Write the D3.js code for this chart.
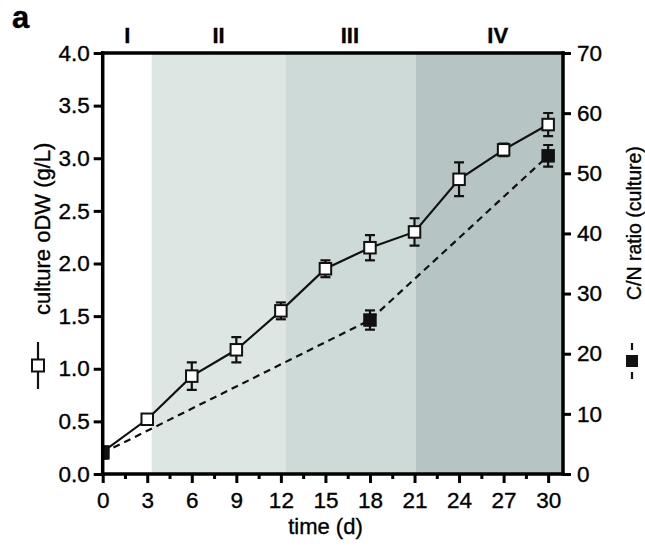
<!DOCTYPE html>
<html>
<head>
<meta charset="utf-8">
<script src="https://cdn.jsdelivr.net/npm/d3@7"></script>
<style>
  html, body { margin: 0; padding: 0; background: #fff; }
  svg { display: block; font-family: "Liberation Sans", Arial, Helvetica, sans-serif; }
  svg text { stroke: #000; stroke-width: 0.35px; }
</style>
</head>
<body>
<svg id="chart" width="645" height="548"></svg>
<script>
// Sampling days and culture dry weight (g/L), mean and error
const days = [0, 3, 6, 9, 12, 15, 18, 21, 24, 27, 30];
const odw = [0.21, 0.52, 0.93, 1.18, 1.55, 1.95, 2.15, 2.30, 2.80, 3.08, 3.32];
const odwErr = [0.03, 0.03, 0.13, 0.12, 0.08, 0.08, 0.12, 0.13, 0.16, 0.06, 0.11];

// C/N ratio of the culture, measured on fewer days
const cnDays = [0, 18, 30];
const cn = [3.5, 25.6, 52.9];
const cnErr = [0.9, 1.6, 1.8];

// Growth phases shaded behind the data
const phaseNames = ["I", "II", "III", "IV"];
const phaseStart = [0, 3.3, 12.3, 21.1];
const phaseEnd = [3.3, 12.3, 21.1, 31];
const phaseLabelAt = [1.65, 7.8, 16.65, 26.6];
const phaseFill = ["#ffffff", "#dde6e3", "#cddad7", "#b6c5c3"];

// Tick values
const xTicks = [0, 3, 6, 9, 12, 15, 18, 21, 24, 27, 30];
const xMinorTicks = [1.5, 4.5, 7.5, 10.5, 13.5, 16.5, 19.5, 22.5, 25.5, 28.5];
const yLeftTicks = [0, 0.5, 1, 1.5, 2, 2.5, 3, 3.5, 4];
const yRightTicks = [0, 10, 20, 30, 40, 50, 60, 70];

const svg = d3.select("#chart");
const plotL = 102.7, plotR = 563, plotT = 53, plotB = 474;

const x = d3.scaleLinear().domain([0, 31]).range([plotL, plotR]);
const yL = d3.scaleLinear().domain([0, 4]).range([plotB, plotT]);
const yR = d3.scaleLinear().domain([0, 70]).range([plotB, plotT]);

svg.append("defs").append("clipPath").attr("id", "plotClip")
  .append("rect").attr("x", plotL).attr("y", plotT - 10)
  .attr("width", plotR - plotL).attr("height", plotB - plotT + 10);

// phase bands
svg.append("g").selectAll("rect").data(phaseNames).join("rect")
  .attr("x", (d, i) => x(phaseStart[i]))
  .attr("width", (d, i) => x(phaseEnd[i]) - x(phaseStart[i]))
  .attr("y", plotT).attr("height", plotB - plotT)
  .attr("fill", (d, i) => phaseFill[i]);

// phase labels
svg.append("g").selectAll("text").data(phaseNames).join("text")
  .attr("x", (d, i) => x(phaseLabelAt[i]))
  .attr("y", 43)
  .attr("text-anchor", "middle")
  .attr("font-size", 22).attr("font-weight", "bold")
  .text(d => d);

const plot = svg.append("g").attr("clip-path", "url(#plotClip)");

const odwPts = days.map((d, i) => ({ t: d, v: odw[i], e: odwErr[i] }));
const cnPts = cnDays.map((d, i) => ({ t: d, v: cn[i], e: cnErr[i] }));

// connecting lines
plot.append("path").datum(odwPts)
  .attr("fill", "none").attr("stroke", "#111").attr("stroke-width", 2.2)
  .attr("d", d3.line().x(d => x(d.t)).y(d => yL(d.v)));
plot.append("path").datum(cnPts)
  .attr("fill", "none").attr("stroke", "#111").attr("stroke-width", 2.2)
  .attr("stroke-dasharray", "7,5")
  .attr("d", d3.line().x(d => x(d.t)).y(d => yR(d.v)));

function errorBars(g, pts, y) {
  const cap = 5;
  const eb = g.append("g").attr("stroke", "#111").attr("stroke-width", 2.2);
  eb.selectAll("line.v").data(pts).join("line").attr("class", "v")
    .attr("x1", d => x(d.t)).attr("x2", d => x(d.t))
    .attr("y1", d => y(d.v + d.e)).attr("y2", d => y(d.v - d.e));
  eb.selectAll("line.hi").data(pts).join("line").attr("class", "hi")
    .attr("x1", d => x(d.t) - cap).attr("x2", d => x(d.t) + cap)
    .attr("y1", d => y(d.v + d.e)).attr("y2", d => y(d.v + d.e));
  eb.selectAll("line.lo").data(pts).join("line").attr("class", "lo")
    .attr("x1", d => x(d.t) - cap).attr("x2", d => x(d.t) + cap)
    .attr("y1", d => y(d.v - d.e)).attr("y2", d => y(d.v - d.e));
}

const sq = 11.5;
errorBars(plot, odwPts, yL);
plot.append("g").selectAll("rect").data(odwPts).join("rect")
  .attr("x", d => x(d.t) - sq / 2).attr("y", d => yL(d.v) - sq / 2)
  .attr("width", sq).attr("height", sq)
  .attr("fill", "#fff").attr("stroke", "#111").attr("stroke-width", 2);

errorBars(plot, cnPts, yR);
plot.append("g").selectAll("rect").data(cnPts).join("rect")
  .attr("x", d => x(d.t) - sq / 2).attr("y", d => yR(d.v) - sq / 2)
  .attr("width", sq).attr("height", sq)
  .attr("fill", "#111").attr("stroke", "#111").attr("stroke-width", 2);

// axes
function styleAxis(g) {
  g.selectAll("path.domain").remove();
  g.selectAll(".tick line").attr("stroke", "#000").attr("stroke-width", 3);
  g.selectAll(".tick text").attr("font-size", 22.5).attr("fill", "#000")
    .attr("font-family", "Liberation Sans, Arial, sans-serif");
}

svg.append("g").attr("transform", `translate(${plotL},0)`)
  .call(d3.axisLeft(yL).tickValues(yLeftTicks).tickFormat(d3.format(".1f"))
    .tickSize(9).tickPadding(4))
  .call(styleAxis);

svg.append("g").attr("transform", `translate(${plotR},0)`)
  .call(d3.axisRight(yR).tickValues(yRightTicks).tickFormat(d3.format("d"))
    .tickSize(8).tickPadding(6))
  .call(styleAxis);

svg.append("g").attr("transform", `translate(0,${plotB})`)
  .call(d3.axisBottom(x).tickValues(xMinorTicks).tickFormat("").tickSize(5))
  .call(styleAxis);

svg.append("g").attr("transform", `translate(0,${plotB})`)
  .call(d3.axisBottom(x).tickValues(xTicks).tickFormat(d3.format("d"))
    .tickSize(9).tickPadding(9))
  .call(styleAxis);

// frame
const frame = svg.append("g").attr("stroke", "#000").attr("stroke-width", 3.5)
  .attr("stroke-linecap", "square");
frame.append("line").attr("x1", plotL).attr("x2", plotL).attr("y1", plotT).attr("y2", plotB);
frame.append("line").attr("x1", plotR).attr("x2", plotR).attr("y1", plotT).attr("y2", plotB);
frame.append("line").attr("x1", plotL).attr("x2", plotR).attr("y1", plotT).attr("y2", plotT);
frame.append("line").attr("x1", plotL).attr("x2", plotR).attr("y1", plotB).attr("y2", plotB);

// axis titles with their series symbols
const leftTitle = svg.append("g").attr("transform", "translate(50,0) rotate(-90)");
leftTitle.append("text").attr("x", -315).attr("y", 0)
  .attr("font-size", 22).attr("fill", "#000").text("culture oDW (g/L)");
leftTitle.append("line").attr("x1", -389).attr("x2", -342).attr("y1", -12).attr("y2", -12)
  .attr("stroke", "#111").attr("stroke-width", 2.2);
leftTitle.append("rect").attr("x", -365.5 - 6).attr("y", -12 - 6).attr("width", 12).attr("height", 12)
  .attr("fill", "#fff").attr("stroke", "#111").attr("stroke-width", 2);

const rightTitle = svg.append("g").attr("transform", "translate(641,0) rotate(-90)");
rightTitle.append("text").attr("x", -300).attr("y", 0)
  .attr("font-size", 19.5).attr("fill", "#000").text("C/N ratio (culture)");
rightTitle.append("line").attr("x1", -379).attr("x2", -343).attr("y1", -9).attr("y2", -9)
  .attr("stroke", "#111").attr("stroke-width", 2.2).attr("stroke-dasharray", "7,5,12,5,7");
rightTitle.append("rect").attr("x", -361 - 6).attr("y", -9 - 6).attr("width", 12).attr("height", 12)
  .attr("fill", "#111");

// x axis title
svg.append("text").attr("x", x(15)).attr("y", 534).attr("text-anchor", "middle")
  .attr("font-size", 22).attr("fill", "#000").text("time (d)");

// panel letter
svg.append("text").attr("x", 12).attr("y", 28)
  .attr("font-size", 31).attr("font-weight", "bold").attr("fill", "#000").text("a");
</script>
</body>
</html>
